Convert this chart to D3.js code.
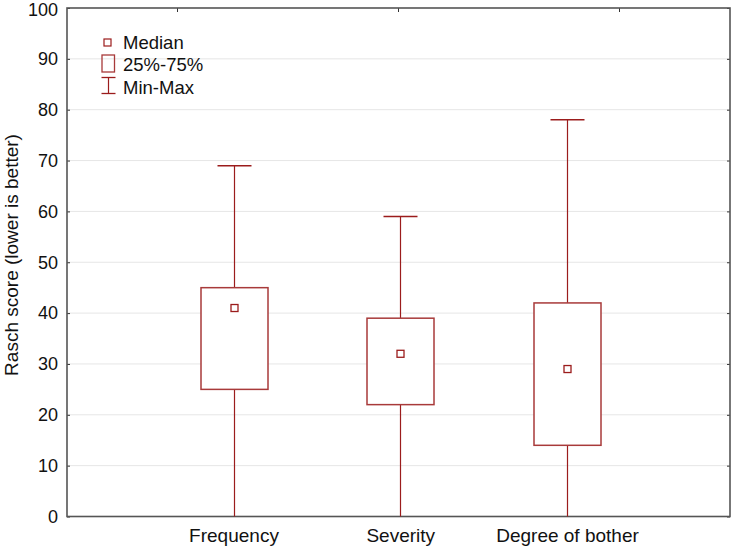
<!DOCTYPE html>
<html><head><meta charset="utf-8">
<script src="https://cdn.jsdelivr.net/npm/d3@7"></script>
<style>body{margin:0;background:#fff}svg{display:block;font-family:"Liberation Sans",Arial,sans-serif}</style>
</head><body><svg id="c" width="735" height="546"></svg>
<script>
const categories = ["Frequency", "Severity", "Degree of bother"];
const minVals = [0, 0, 0];
const q1Vals = [25, 22, 14];
const medianVals = [41, 32, 29];
const q3Vals = [45, 39, 42];
const maxVals = [69, 59, 78];
const yTicks = [0,10,20,30,40,50,60,70,80,90,100];
const legendLabels = ["Median", "25%-75%", "Min-Max"];

const svg = d3.select("#c");
const L = 67, R = 730, T = 8, B = 516.5;
const y = d3.scaleLinear().domain([0,100]).range([B, T]);
const x = d3.scalePoint().domain(categories).range([233.5, 567]);
const xTop = d3.scaleBand().domain(categories).range([L, R]);

const col = "#9b1c1c";
const boxCol = "#a83a3a";
const FONT = "Liberation Sans, Arial, sans-serif";

// gridlines
svg.append("g").selectAll("line").data(yTicks.filter(d => d>0 && d<100)).join("line")
  .attr("x1", L).attr("x2", R).attr("y1", d => y(d)).attr("y2", d => y(d))
  .attr("stroke", "#e6e6e6").attr("stroke-width", 1);

// left axis
const yAxis = d3.axisLeft(y).tickValues(yTicks).tickSize(-3).tickPadding(9);
const gy = svg.append("g").attr("transform", `translate(${L},0)`).call(yAxis);
gy.select(".domain").remove();
gy.selectAll(".tick line").attr("stroke", "#333");
gy.selectAll("text").attr("font-size", 18).attr("fill", "#111").attr("font-family", FONT)
  .attr("dy", d => d === 100 ? "0.42em" : "0.32em");

// right ticks
const yAxisR = d3.axisRight(y).tickValues(yTicks).tickSize(-3).tickFormat("");
const gr = svg.append("g").attr("transform", `translate(${R},0)`).call(yAxisR);
gr.select(".domain").remove();
gr.selectAll(".tick line").attr("stroke", "#333");

// top ticks
svg.append("g").selectAll("line").data(categories).join("line")
  .attr("x1", d => xTop(d) + xTop.bandwidth()/2).attr("x2", d => xTop(d) + xTop.bandwidth()/2)
  .attr("y1", T).attr("y2", T + 4).attr("stroke", "#333").attr("stroke-width", 1);

// bottom axis labels
const xAxis = d3.axisBottom(x).tickSize(0).tickPadding(12);
const gx = svg.append("g").attr("transform", `translate(0,${B})`).call(xAxis);
gx.select(".domain").remove();
gx.selectAll("text").attr("font-size", 19).attr("fill", "#111").attr("font-family", FONT);

// frame
svg.append("rect").attr("x", L).attr("y", T).attr("width", R-L).attr("height", B-T)
  .attr("fill", "none").attr("stroke", "#555").attr("stroke-width", 1.6);

// boxes
const data = categories.map((c,i) => ({c, min:minVals[i], q1:q1Vals[i], med:medianVals[i], q3:q3Vals[i], max:maxVals[i]}));
const bw = 67, cw = 34;
const g = svg.append("g");
data.forEach(d => {
  const cx = Math.round(x(d.c)) + 0.5;
  g.append("line").attr("x1", cx).attr("x2", cx).attr("y1", y(d.q3)).attr("y2", y(d.max)).attr("stroke", col).attr("stroke-width", 1.2);
  g.append("line").attr("x1", cx).attr("x2", cx).attr("y1", y(d.q1)).attr("y2", y(d.min)).attr("stroke", col).attr("stroke-width", 1.2);
  g.append("line").attr("x1", cx - cw/2).attr("x2", cx + cw/2).attr("y1", y(d.max)).attr("y2", y(d.max)).attr("stroke", col).attr("stroke-width", 1.5);
  g.append("rect").attr("x", cx - bw/2).attr("y", y(d.q3)).attr("width", bw).attr("height", y(d.q1) - y(d.q3))
    .attr("fill", "#fff").attr("stroke", boxCol).attr("stroke-width", 1.5);
  g.append("rect").attr("x", cx - 3.5).attr("y", y(d.med) - 3.5).attr("width", 7).attr("height", 7)
    .attr("fill", "#fff").attr("stroke", col).attr("stroke-width", 1.3);
});

// legend
const lg = svg.append("g");
lg.append("rect").attr("x", 104).attr("y", 39).attr("width", 7).attr("height", 7).attr("fill", "none").attr("stroke", col).attr("stroke-width", 1.2);
lg.append("rect").attr("x", 102).attr("y", 55).attr("width", 12.5).attr("height", 17).attr("fill", "none").attr("stroke", boxCol).attr("stroke-width", 1.3);
lg.append("line").attr("x1", 108.5).attr("x2", 108.5).attr("y1", 77.5).attr("y2", 93.5).attr("stroke", col).attr("stroke-width", 1.2);
lg.append("line").attr("x1", 101.5).attr("x2", 115.5).attr("y1", 77.5).attr("y2", 77.5).attr("stroke", col).attr("stroke-width", 1.3);
lg.append("line").attr("x1", 101.5).attr("x2", 115.5).attr("y1", 93.5).attr("y2", 93.5).attr("stroke", col).attr("stroke-width", 1.3);
lg.selectAll("text").data(legendLabels).join("text")
  .attr("x", 123).attr("y", (d,i) => 48.5 + i*22.5)
  .attr("font-size", 18.5).attr("fill", "#111").text(d => d);

// y label
svg.append("text").attr("transform", `translate(18,255) rotate(-90)`)
  .attr("text-anchor", "middle").attr("font-size", 19).attr("fill", "#111")
  .text("Rasch score (lower is better)");
</script></body></html>
